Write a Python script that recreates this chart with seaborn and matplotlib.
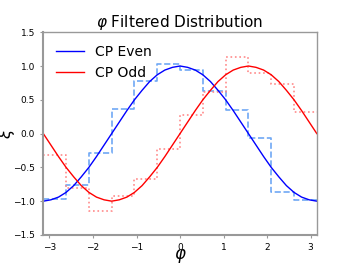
import numpy as np
import pandas as pd
import seaborn as sns
import matplotlib.pyplot as plt

# angle grid in degrees, curve values
phi_deg = list(range(-180, 181, 10))
cp_even = [-1.0, -0.98, -0.94, -0.87, -0.77, -0.64, -0.5, -0.34, -0.17, 0.0,
           0.17, 0.34, 0.5, 0.64, 0.77, 0.87, 0.94, 0.98, 1.0,
           0.98, 0.94, 0.87, 0.77, 0.64, 0.5, 0.34, 0.17, 0.0,
           -0.17, -0.34, -0.5, -0.64, -0.77, -0.87, -0.94, -0.98, -1.0]
cp_odd = [0.0, -0.17, -0.34, -0.5, -0.64, -0.77, -0.87, -0.94, -0.98, -1.0,
          -0.98, -0.94, -0.87, -0.77, -0.64, -0.5, -0.34, -0.17, 0.0,
          0.17, 0.34, 0.5, 0.64, 0.77, 0.87, 0.94, 0.98, 1.0,
          0.98, 0.94, 0.87, 0.77, 0.64, 0.5, 0.34, 0.17, 0.0]

# filtered histograms, 12 bins over [-pi, pi]
n_bins = 12
even_hist = [-0.97, -0.76, -0.28, 0.36, 0.78, 1.03, 0.94, 0.63, 0.355, -0.064, -0.86, -0.99]
odd_hist = [-0.315, -0.80, -1.15, -0.93, -0.665, -0.227, 0.27, 0.62, 1.13, 0.89, 0.73, 0.32]

phi = np.deg2rad(phi_deg)
edges = np.linspace(-np.pi, np.pi, n_bins + 1)
centers = (edges[:-1] + edges[1:]) / 2

curves = pd.DataFrame({"phi": phi, "CP Even": cp_even, "CP Odd": cp_odd})
hists = pd.DataFrame({"phi": centers, "even": even_hist, "odd": odd_hist})

fig, ax = plt.subplots(figsize=(3.52, 2.64), dpi=100)
fig.subplots_adjust(left=0.123, right=0.9, top=0.878, bottom=0.11)

sns.histplot(data=hists, x="phi", weights="even", bins=n_bins, binrange=(-np.pi, np.pi),
             element="step", fill=False, color="#6fa8f5", linestyle="--",
             linewidth=1.2, ax=ax)
sns.histplot(data=hists, x="phi", weights="odd", bins=n_bins, binrange=(-np.pi, np.pi),
             element="step", fill=False, color="#ff8a8a", linestyle=":",
             linewidth=1.2, ax=ax)

sns.lineplot(data=curves, x="phi", y="CP Even", color="blue", linewidth=1.0,
             label="CP Even", ax=ax)
sns.lineplot(data=curves, x="phi", y="CP Odd", color="red", linewidth=1.0,
             label="CP Odd", ax=ax)

ax.set_xlim(-np.pi, np.pi)
ax.set_ylim(-1.5, 1.5)
ax.set_yticks([-1.5, -1.0, -0.5, 0.0, 0.5, 1.0, 1.5])
ax.set_xticks([-3, -2, -1, 0, 1, 2, 3])
ax.tick_params(labelsize=6.5, length=2.5, color="#999999")
for side, sp in ax.spines.items():
    sp.set_color("#999999")
    sp.set_linewidth(1.5 if side in ("left", "bottom") else 1.0)

ax.set_title(r"$\varphi$ Filtered Distribution", fontsize=11, pad=3)
ax.set_xlabel(r"$\varphi$", fontsize=12)
ax.set_ylabel(r"$\xi$", fontsize=12)
ax.xaxis.set_label_coords(0.5, -0.06)
ax.yaxis.set_label_coords(-0.095, 0.5)
ax.legend(loc="upper left", frameon=False, fontsize=10, handlelength=2.0)

plt.savefig("out.png", dpi=100)
